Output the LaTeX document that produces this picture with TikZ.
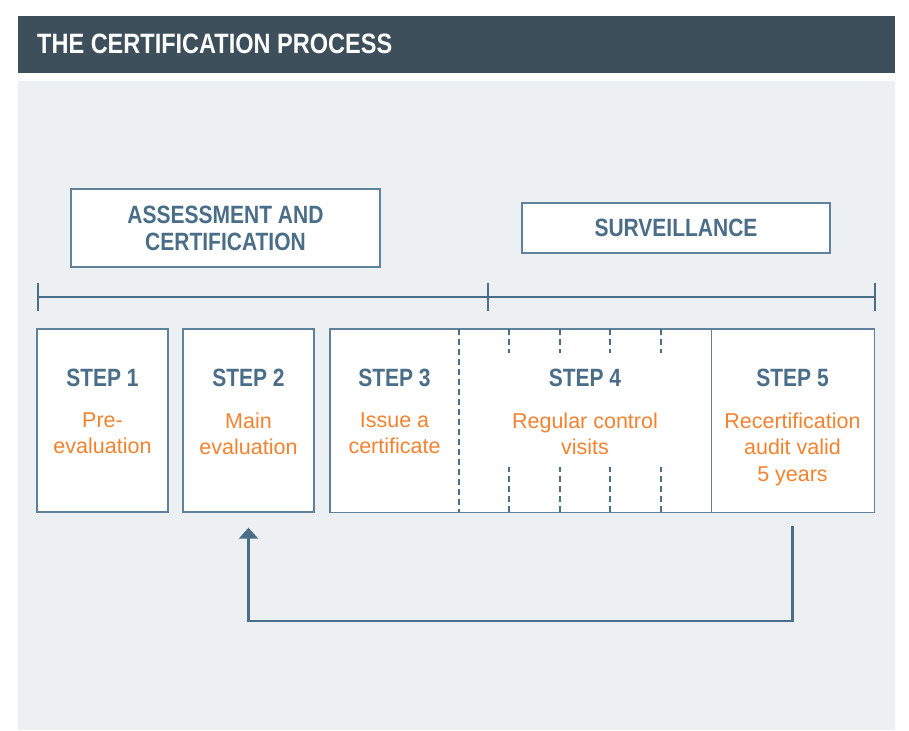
\documentclass[tikz,border=0pt]{standalone}
\usepackage{fontspec}
\setmainfont{Liberation Sans}
\newfontfamily\narrowfont{Liberation Sans}[FakeStretch=0.84]
\usetikzlibrary{arrows.meta,calc}

\definecolor{barcol}{HTML}{3D4F5B}
\definecolor{panelcol}{HTML}{ECF0F3}
\definecolor{boxline}{HTML}{5F8199}
\definecolor{headblue}{HTML}{4B6E88}
\definecolor{linecol}{HTML}{4A6E87}
\definecolor{steporange}{HTML}{F5822F}

\begin{document}
\begin{tikzpicture}[x=1pt,y=-1pt]

	\tikzstyle{step_box} = [draw=boxline, line width=1.4pt, fill=white, minimum height=183pt, inner sep=0pt]
	\tikzstyle{step_part} = [fill=white, minimum height=183pt, inner sep=0pt]
	\tikzstyle{step_title} = [anchor=base, text=headblue, inner sep=0pt, font=\narrowfont\bfseries\fontsize{25}{25}\selectfont]
	\tikzstyle{step_text} = [anchor=north, text=steporange, align=center, inner sep=0pt, font=\fontsize{21.5}{26.5}\selectfont]
	\tikzstyle{phase_box} = [draw=boxline, line width=1.4pt, fill=white, align=center, text=headblue, font=\narrowfont\bfseries\fontsize{25}{27}\selectfont]
	\tikzstyle{time_line} = [draw=linecol, line width=2pt]
	\tikzstyle{dash_line} = [draw=linecol, line width=1.6pt, dash pattern=on 6pt off 4pt]
	\tikzstyle{back_arrow} = [draw=linecol, line width=2.5pt, -{Triangle[width=19pt,length=11pt]}]

	\useasboundingbox (0,0) rectangle (909,730);

%------------------------------------------------------------
	\node[fill=barcol, minimum width=877pt, minimum height=57pt, inner sep=0pt] (bar) at (456.5,44.5) {};
	\node[anchor=base west, inner sep=0pt, text=white, font=\narrowfont\bfseries\fontsize{28}{28}\selectfont] (title) at (37,54) {THE CERTIFICATION PROCESS};
	\fill[panelcol] (18,81) rectangle (895,730);

%------------------------------------------------------------
	\node[phase_box, minimum width=309pt, minimum height=78pt] (assess) at (225.5,228) {ASSESSMENT AND\\CERTIFICATION};
	\node[phase_box, minimum width=308pt, minimum height=50pt] (surv) at (676,228) {SURVEILLANCE};

	\coordinate (t_left) at (38,297);
	\coordinate (t_mid) at (488,297);
	\coordinate (t_right) at (875,297);
	\draw[time_line] (t_left) -- (t_right);
	\foreach \c in {t_left,t_mid,t_right}
		\draw[time_line] ($(\c)+(0,-14)$) -- ($(\c)+(0,14)$);

%------------------------------------------------------------
	\node[step_box, minimum width=131pt] (s1) at (102.5,420.5) {};
	\node[step_box, minimum width=131pt] (s2) at (248.5,420.5) {};

	\node[step_part, minimum width=129pt] (s3) at (394.5,420.5) {};
	\node[step_part, minimum width=252pt] (s4) at (585,420.5) {};
	\node[step_part, minimum width=163pt] (s5) at (792.5,420.5) {};
	\draw[boxline, line width=1.4pt] (s3.north west) rectangle (s5.south east);
	\draw[dash_line] (s3.north east) -- (s3.south east);
	\draw[boxline, line width=1.4pt] (s4.north east) -- (s4.south east);
	\foreach \k in {1,...,4} {
		\draw[dash_line] ($(s4.north west)!\k/5!(s4.north east)$) -- ++(0,24);
		\draw[dash_line] ($(s4.south west)!\k/5!(s4.south east)$) -- ++(0,-45);
	}

%------------------------------------------------------------
	\node[step_title] (l1) at (102.5,386) {STEP 1};
	\node[step_title] (l2) at (248.5,386) {STEP 2};
	\node[step_title] (l3) at (394.5,386) {STEP 3};
	\node[step_title] (l4) at (585,386) {STEP 4};
	\node[step_title] (l5) at (792.5,386) {STEP 5};

	\node[step_text] (d1) at (102.5,412.5) {Pre-\\evaluation};
	\node[step_text] (d2) at (248.5,412.5) {Main\\evaluation};
	\node[step_text] (d3) at (394.5,412.5) {Issue a\\certificate};
	\node[step_text] (d4) at (585,412.5) {Regular control\\visits};
	\node[step_text] (d5) at (792.5,412.5) {Recertification\\audit valid\\5 years};

%------------------------------------------------------------
	\draw[back_arrow] ($(s5.south)+(0,14)$) -- ++(0,95) -| ($(s2.south)+(0,15)$);

\end{tikzpicture}
\end{document}
